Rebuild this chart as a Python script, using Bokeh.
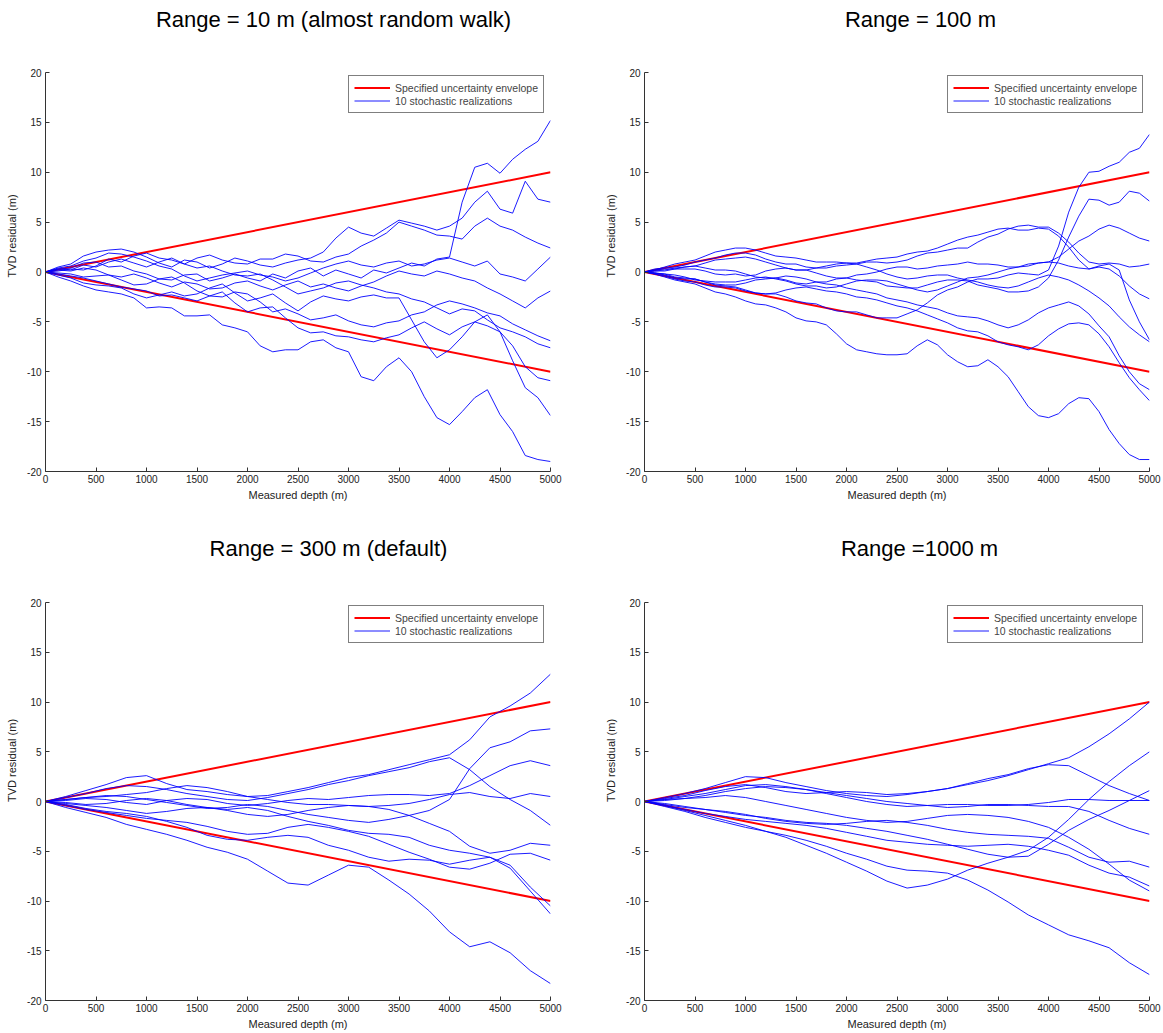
from bokeh.plotting import figure
from bokeh.layouts import column, row
from bokeh.models import Label, Legend, LegendItem, Range1d
from bokeh.embed import file_html
from bokeh.resources import INLINE

FONT = "Liberation Sans"

# ---------------- data ----------------
x_ticks = [0, 500, 1000, 1500, 2000, 2500, 3000, 3500, 4000, 4500, 5000]
y_ticks = [-20, -15, -10, -5, 0, 5, 10, 15, 20]

env_x = [0, 5000]
env_upper = [0, 10]
env_lower = [0, -10]

titles = ["Range = 10 m (almost random walk)", "Range = 100 m",
          "Range = 300 m (default)", "Range =1000 m"]
legend_labels = ["Specified uncertainty envelope", "10 stochastic realizations"]

# sample depths
x_rw = list(range(0, 5001, 125))     # Range = 10 m panel
x_md = list(range(0, 5001, 100))     # Range = 100 m panel
x_sm = list(range(0, 5001, 200))     # Range = 300 m and 1000 m panels

# Range = 10 m
r10_1 = [0, 0.3, 0.4, 0.9, 1.0, 0.5, 0.6, 0.1, -0.2, -0.7, -0.8, -0.3, -0.2, -0.9, -0.6, -0.2, -0.6, -0.9, -0.2, -0.6, 0.1, 0.4, -0.4, 0.2, -0.2, -0.6, 0.2, -0.1, 0.4, 0.9, 0.6, 1.3, 1.5, 7.0, 10.5, 10.9, 9.9, 11.3, 12.3, 13.1, 15.2]
r10_2 = [0, 0.5, 0.8, 1.6, 2.0, 2.2, 2.3, 2.0, 1.5, 0.9, 0.5, 1.2, 1.0, 0.4, 0.8, 1.4, 1.1, 0.7, 0.5, 0.9, 1.2, 1.4, 2.0, 3.4, 4.5, 3.9, 3.6, 4.4, 5.2, 4.9, 4.6, 4.2, 4.6, 5.4, 7.0, 8.1, 6.3, 5.9, 9.1, 7.3, 7.0]
r10_3 = [0, 0.1, 0.3, 0.2, 0.6, 1.3, 1.0, 1.6, 1.9, 1.4, 1.2, 0.8, 1.4, 1.7, 1.2, 0.9, 0.8, 1.3, 1.3, 1.8, 1.6, 1.1, 1.0, 1.5, 1.8, 2.6, 3.2, 3.9, 5.0, 4.6, 4.2, 3.7, 3.6, 3.3, 4.6, 5.4, 4.6, 4.2, 3.5, 2.9, 2.4]
r10_4 = [0, 0.4, 0.6, 1.1, 1.4, 1.9, 1.8, 1.5, 1.1, 0.6, 0.3, -0.4, -0.9, -0.6, -0.3, -0.1, 0.1, -0.3, -0.5, -0.9, -0.6, -0.1, 0.4, 0.8, 1.1, 0.7, 0.5, 0.9, 1.1, 0.6, 0.8, 1.2, 1.4, 1.0, 0.6, 1.1, -0.2, -0.5, -0.9, 0.3, 1.5]
r10_5 = [0, 0.2, 0.1, 0.4, 0.2, -0.3, -0.5, -0.2, -0.6, -1.1, -1.5, -1.0, -1.2, -1.7, -1.6, -1.1, -0.9, -1.4, -1.8, -1.3, -0.9, -1.5, -1.2, -1.6, -1.9, -1.4, -1.0, -0.4, 0.1, -0.2, -0.4, 0.1, -0.2, -0.6, -0.9, -1.6, -2.2, -2.9, -3.6, -2.6, -1.9]
r10_6 = [0, -0.1, -0.2, -0.5, -0.4, -0.3, -0.8, -1.3, -1.2, -0.7, -0.5, -1.1, -1.9, -2.4, -2.5, -2.0, -2.2, -3.0, -4.0, -3.7, -4.2, -4.8, -4.6, -4.3, -4.9, -5.3, -5.5, -5.1, -4.9, -4.3, -4.0, -3.3, -2.9, -3.2, -3.6, -4.1, -4.4, -5.2, -5.8, -6.4, -6.9]
r10_7 = [0, 0.3, 0.2, 0.7, 0.5, 1.0, 1.3, 0.9, 0.5, 1.0, 1.4, 0.8, 0.4, 0.6, 0.1, -0.3, -0.4, -0.2, -0.8, -1.5, -2.2, -1.9, -1.6, -1.1, -0.9, -1.3, -1.6, -2.0, -2.2, -2.7, -3.0, -3.6, -4.2, -3.7, -3.9, -4.8, -5.6, -6.0, -6.5, -7.2, -7.6]
r10_8 = [0, -0.2, -0.4, -0.6, -0.9, -1.2, -1.5, -1.7, -1.9, -2.4, -2.3, -2.6, -2.9, -2.4, -2.0, -3.1, -4.0, -3.6, -3.5, -4.6, -5.6, -6.1, -6.0, -6.4, -6.5, -6.8, -7.0, -6.6, -6.3, -5.6, -5.0, -5.7, -6.3, -5.5, -5.0, -5.4, -6.0, -7.4, -9.5, -10.6, -10.9]
r10_9 = [0, -0.3, -0.6, -1.1, -1.3, -1.4, -1.6, -2.2, -2.6, -2.3, -2.0, -2.4, -2.2, -1.6, -1.2, -2.1, -2.9, -2.6, -2.2, -3.1, -3.9, -3.0, -2.4, -2.7, -2.9, -2.5, -2.3, -2.6, -2.6, -4.8, -7.0, -8.6, -7.8, -6.5, -5.0, -4.3, -6.0, -8.9, -11.6, -12.6, -14.4]
r10_10 = [0, -0.5, -0.9, -1.4, -1.8, -2.0, -2.2, -2.6, -3.6, -3.5, -3.6, -4.4, -4.4, -4.3, -5.3, -5.6, -6.0, -7.4, -8.0, -7.8, -7.8, -7.0, -6.8, -7.6, -8.0, -10.5, -10.9, -9.5, -8.6, -10.0, -12.5, -14.6, -15.3, -14.0, -12.6, -11.8, -14.3, -16.0, -18.4, -18.8, -19.0]

# Range = 100 m
r100_1 = [0, -0.1, -0.3, -0.6, -0.7, -0.7, -1.0, -1.3, -1.4, -1.5, -1.8, -2.1, -2.2, -2.2, -2.5, -2.9, -3.1, -3.2, -3.6, -3.9, -4.0, -4.0, -4.3, -4.6, -4.6, -4.6, -4.2, -3.8, -3.1, -2.3, -1.8, -1.5, -1.0, -0.7, -0.7, -0.6, -0.3, -0.1, -0.2, -0.3, 0.2, 2.6, 6.0, 8.5, 10.0, 10.1, 10.6, 11.0, 12.0, 12.4, 13.8]
r100_2 = [0, 0.2, 0.3, 0.3, 0.5, 0.6, 0.4, 0.2, 0.2, 0.1, -0.2, -0.5, -0.6, -0.6, -0.8, -1.1, -1.2, -1.0, -1.0, -0.7, -0.6, -0.8, -0.9, -1.0, -1.4, -1.5, -1.6, -1.6, -1.3, -1.0, -0.8, -0.8, -0.9, -1.3, -1.5, -1.7, -2.0, -2.0, -1.9, -1.5, -0.6, 1.2, 3.5, 5.6, 7.3, 7.2, 6.7, 7.0, 8.1, 7.9, 7.1]
r100_3 = [0, 0.1, 0.1, 0.3, 0.3, 0.3, 0.1, -0.2, -0.3, -0.2, -0.4, -0.3, 0.1, 0.3, 0.4, 0.2, 0.2, -0.1, -0.4, -0.6, -0.6, -0.3, -0.2, 0.0, 0.3, 0.5, 0.5, 0.3, 0.4, 0.6, 0.7, 0.8, 1.0, 0.8, 0.8, 0.7, 0.5, 0.5, 0.6, 0.9, 1.0, 1.5, 2.3, 3.1, 3.6, 4.3, 4.7, 4.4, 3.9, 3.4, 3.1]
r100_4 = [0, 0.3, 0.4, 0.5, 0.7, 1.0, 1.2, 1.4, 1.7, 1.9, 1.9, 1.7, 1.3, 1.0, 0.8, 0.8, 0.5, 0.4, 0.4, 0.6, 0.7, 0.8, 1.0, 1.0, 0.9, 1.0, 1.2, 1.6, 1.9, 2.0, 2.2, 2.4, 2.4, 3.0, 3.5, 3.8, 4.3, 4.6, 4.7, 4.5, 4.5, 3.9, 3.0, 1.9, 1.0, 0.8, 0.9, 0.8, 0.5, 0.6, 0.8]
r100_5 = [0, 0.2, 0.5, 0.8, 1.0, 1.2, 1.6, 2.0, 2.2, 2.4, 2.4, 2.2, 1.9, 1.6, 1.5, 1.4, 1.2, 1.0, 1.0, 1.0, 0.9, 0.9, 1.1, 1.3, 1.4, 1.5, 1.8, 2.0, 2.1, 2.4, 2.8, 3.2, 3.5, 3.7, 4.0, 4.3, 4.4, 4.2, 4.2, 4.4, 4.3, 3.6, 2.5, 1.2, 0.3, 0.5, 0.3, -0.4, -1.4, -2.2, -2.7]
r100_6 = [0, -0.1, -0.2, -0.3, -0.5, -0.8, -0.9, -1.0, -1.0, -1.0, -0.8, -0.6, -0.5, -0.7, -0.9, -1.2, -1.4, -1.4, -1.6, -1.5, -1.2, -0.9, -0.8, -0.8, -0.9, -1.2, -1.5, -1.8, -2.0, -1.8, -1.4, -1.0, -0.6, -0.5, -0.3, 0.0, 0.3, 0.5, 0.8, 0.9, 1.0, 0.9, 0.6, 0.4, 0.3, 0.6, 0.8, 0.2, -2.8, -5.0, -6.8]
r100_7 = [0, 0.1, 0.2, 0.4, 0.5, 0.6, 0.9, 1.2, 1.3, 1.4, 1.5, 1.3, 1.0, 0.7, 0.4, 0.2, 0.2, 0.4, 0.6, 0.8, 0.9, 0.8, 0.5, 0.2, -0.2, -0.5, -0.7, -0.6, -0.4, -0.3, -0.3, -0.6, -0.8, -1.0, -1.3, -1.5, -1.6, -1.4, -1.0, -0.6, -0.3, -0.5, -0.8, -1.3, -1.9, -2.6, -3.4, -4.5, -5.5, -6.3, -7.0]
r100_8 = [0, -0.1, -0.2, -0.5, -0.6, -0.7, -1.0, -1.2, -1.3, -1.3, -1.1, -0.8, -0.7, -0.6, -0.4, -0.5, -0.7, -1.0, -1.2, -1.3, -1.6, -1.8, -2.0, -2.2, -2.6, -2.8, -3.0, -3.3, -3.5, -3.7, -4.1, -4.4, -4.5, -4.6, -4.9, -5.3, -5.6, -5.3, -4.8, -4.1, -3.6, -3.3, -3.0, -3.4, -4.2, -5.4, -6.5, -8.4, -10.0, -11.2, -11.8]
r100_9 = [0, -0.2, -0.4, -0.7, -0.9, -1.0, -1.3, -1.5, -1.5, -1.6, -1.9, -2.1, -2.2, -2.1, -1.8, -1.6, -1.5, -1.7, -1.9, -2.0, -2.2, -2.5, -2.6, -2.8, -3.1, -3.4, -3.6, -3.9, -4.3, -4.7, -5.1, -5.6, -5.9, -6.0, -6.4, -7.0, -7.3, -7.5, -7.8, -7.3, -6.4, -5.7, -5.2, -5.1, -5.3, -6.2, -7.5, -9.1, -10.6, -11.8, -12.9]
r100_10 = [0, -0.2, -0.5, -0.8, -1.0, -1.2, -1.6, -2.0, -2.2, -2.5, -2.9, -3.2, -3.3, -3.6, -4.0, -4.6, -4.9, -5.0, -5.3, -6.2, -7.2, -7.8, -8.0, -8.2, -8.3, -8.3, -8.2, -7.4, -6.8, -7.3, -8.3, -9.0, -9.5, -9.4, -8.8, -9.5, -10.5, -12.0, -13.5, -14.4, -14.6, -14.2, -13.2, -12.6, -12.7, -14.0, -15.8, -17.2, -18.3, -18.8, -18.8]

# Range = 300 m
r300_1 = [0, 0.5, 1.1, 1.7, 2.4, 2.6, 1.8, 1.2, 1.0, 0.7, 0.5, 0.6, 1.0, 1.4, 1.9, 2.4, 2.7, 3.2, 3.7, 4.2, 4.7, 6.2, 8.5, 9.6, 10.9, 12.8]
r300_2 = [0, 0.2, 0.4, 0.6, 0.5, 0.2, -0.1, -0.4, -0.7, -0.6, -0.3, -0.5, -0.9, -1.3, -1.6, -1.9, -2.1, -1.8, -1.4, -0.9, 0.2, 3.3, 5.4, 6.0, 7.1, 7.3]
r300_3 = [0, 0.1, 0.3, 0.2, -0.1, -0.3, 0.1, 0.3, 0.2, -0.2, -0.4, -0.2, 0.1, 0.3, 0.2, 0.4, 0.6, 0.7, 0.7, 0.6, 0.8, 1.6, 2.6, 3.6, 4.1, 3.6]
r300_4 = [0, 0.2, 0.4, 0.5, 0.7, 0.9, 1.3, 1.6, 1.4, 1.0, 0.5, 0.2, -0.1, -0.3, -0.3, -0.4, -0.5, -0.4, -0.2, 0.2, 0.7, 0.9, 0.5, 0.3, 0.8, 0.5]
r300_5 = [0, 0.4, 0.8, 1.3, 1.6, 1.5, 1.2, 0.8, 0.5, 0.2, 0.1, 0.4, 0.8, 1.2, 1.7, 2.1, 2.6, 3.0, 3.4, 4.0, 4.4, 3.2, 1.5, 0.2, -0.9, -2.4]
r300_6 = [0, -0.2, -0.4, -0.6, -0.9, -1.2, -1.0, -0.7, -0.6, -0.9, -1.3, -1.5, -1.3, -0.9, -0.6, -0.4, -0.5, -0.8, -1.4, -2.2, -3.0, -4.5, -5.2, -4.9, -4.2, -4.4]
r300_7 = [0, -0.4, -0.8, -1.1, -1.4, -1.7, -1.9, -2.1, -2.5, -3.0, -3.3, -3.2, -2.6, -2.3, -2.6, -3.0, -3.5, -4.3, -5.1, -5.8, -6.6, -6.8, -6.2, -5.3, -5.2, -5.9]
r300_8 = [0, -0.1, -0.3, -0.2, 0.1, 0.3, 0.1, -0.3, -0.6, -0.8, -0.6, -0.9, -1.5, -2.0, -2.4, -2.9, -3.2, -3.3, -3.6, -4.4, -4.9, -5.2, -5.6, -6.4, -8.6, -10.5]
r300_9 = [0, -0.3, -0.7, -1.0, -1.2, -1.5, -2.0, -2.6, -3.4, -3.8, -3.9, -3.6, -3.4, -3.6, -4.4, -4.9, -5.6, -6.0, -5.8, -5.9, -6.3, -5.9, -5.6, -6.7, -9.0, -11.3]
r300_10 = [0, -0.6, -1.1, -1.6, -2.3, -2.8, -3.3, -3.9, -4.6, -5.1, -5.8, -7.0, -8.2, -8.4, -7.4, -6.4, -6.6, -7.9, -9.3, -11.0, -13.1, -14.6, -14.1, -15.2, -17.0, -18.3]

# Range = 1000 m
r1000_1 = [0, 0.4, 0.8, 1.3, 1.9, 2.5, 2.4, 1.9, 1.5, 1.1, 0.8, 0.6, 0.5, 0.7, 1.0, 1.3, 1.7, 2.1, 2.6, 3.2, 3.8, 4.4, 5.5, 6.8, 8.3, 10.0]
r1000_2 = [0, -0.4, -0.9, -1.4, -1.9, -2.4, -3.0, -3.6, -4.4, -5.2, -6.1, -7.0, -8.0, -8.7, -8.4, -7.8, -6.9, -6.2, -5.6, -4.9, -3.6, -1.8, 0.2, 2.0, 3.6, 5.0]
r1000_3 = [0, -0.2, -0.5, -0.8, -1.1, -1.4, -1.6, -1.9, -2.1, -2.2, -2.4, -2.7, -3.0, -3.4, -3.8, -4.3, -4.8, -5.3, -5.6, -5.5, -4.3, -2.9, -1.8, -0.9, 0.1, 1.1]
r1000_4 = [0, 0.3, 0.6, 1.1, 1.5, 1.7, 1.4, 1.0, 0.8, 0.9, 1.0, 0.9, 0.7, 0.8, 1.0, 1.3, 1.8, 2.3, 2.7, 3.3, 3.7, 3.6, 2.6, 1.6, 0.8, 0.1]
r1000_5 = [0, 0.2, 0.5, 0.8, 1.2, 1.6, 1.7, 1.5, 1.2, 0.8, 0.4, 0.0, -0.3, -0.5, -0.4, -0.3, -0.3, -0.4, -0.4, -0.3, -0.1, 0.2, 0.2, 0.1, 0.1, 0.1]
r1000_6 = [0, 0.1, 0.3, 0.6, 1.0, 1.3, 1.5, 1.4, 1.2, 0.9, 0.6, 0.3, 0.0, -0.2, -0.4, -0.6, -0.5, -0.3, -0.3, -0.4, -0.5, -0.5, -1.0, -1.9, -2.7, -3.3]
r1000_7 = [0, -0.3, -0.6, -0.8, -1.0, -1.3, -1.7, -2.0, -2.2, -2.3, -2.2, -2.0, -1.9, -2.1, -2.4, -2.8, -3.1, -3.3, -3.4, -3.5, -3.7, -4.6, -5.6, -6.1, -6.0, -6.6]
r1000_8 = [0, -0.4, -0.8, -1.2, -1.5, -1.8, -2.0, -2.2, -2.4, -2.7, -3.1, -3.5, -3.9, -4.1, -4.3, -4.4, -4.5, -4.4, -4.3, -4.5, -4.9, -5.4, -6.4, -7.2, -7.6, -8.5]
r1000_9 = [0, 0.2, 0.3, 0.4, 0.6, 0.4, 0.0, -0.4, -0.8, -1.2, -1.6, -1.9, -2.1, -2.0, -1.7, -1.4, -1.3, -1.4, -1.6, -2.0, -2.6, -3.6, -4.8, -6.3, -7.9, -9.0]
r1000_10 = [0, -0.5, -1.0, -1.6, -2.1, -2.6, -3.0, -3.4, -3.9, -4.5, -5.2, -5.8, -6.5, -6.9, -7.0, -7.2, -7.9, -8.9, -10.1, -11.4, -12.4, -13.4, -14.0, -14.7, -16.2, -17.4]

lines_10 = [r10_1, r10_2, r10_3, r10_4, r10_5, r10_6, r10_7, r10_8, r10_9, r10_10]
lines_100 = [r100_1, r100_2, r100_3, r100_4, r100_5, r100_6, r100_7, r100_8, r100_9, r100_10]
lines_300 = [r300_1, r300_2, r300_3, r300_4, r300_5, r300_6, r300_7, r300_8, r300_9, r300_10]
lines_1000 = [r1000_1, r1000_2, r1000_3, r1000_4, r1000_5, r1000_6, r1000_7, r1000_8, r1000_9, r1000_10]


def make_panel(title, title_cx, title_cy, x, lines, width, bl, br,
               top_px, frame_px, bb):
    """top_px: pixels from figure top to the y=20 level;
    frame_px: pixels between y=20 and y=-20."""
    height = top_px + frame_px + bb
    y_top = 20 + 40.0 * top_px / frame_px
    p = figure(width=width, height=height,
               x_range=Range1d(0, 5000), y_range=Range1d(-20, y_top),
               output_backend="svg", toolbar_location=None,
               min_border_left=bl, min_border_right=br,
               min_border_top=0, min_border_bottom=bb)
    p.grid.visible = False
    p.outline_line_color = None
    p.background_fill_color = "white"
    p.border_fill_color = "white"

    r_up = p.line(env_x, env_upper, line_color="#ff0000", line_width=2)
    r_lo = p.line(env_x, env_lower, line_color="#ff0000", line_width=2)
    r_b = p.multi_line([x] * len(lines), lines, line_color="#0000ff",
                       line_width=0.9)

    p.xaxis.ticker = x_ticks
    p.yaxis.ticker = y_ticks
    p.yaxis.bounds = (-20, 20)
    p.yaxis.major_label_overrides = {v: str(v) for v in y_ticks}
    p.xaxis.major_label_overrides = {v: str(v) for v in x_ticks}
    p.xaxis.axis_label = "Measured depth (m)"
    p.yaxis.axis_label = "TVD residual (m)"
    for ax in (p.xaxis[0], p.yaxis[0]):
        ax.major_tick_in = 4
        ax.major_tick_out = 0
        ax.minor_tick_line_color = None
        ax.axis_line_color = "#333333"
        ax.major_tick_line_color = "#333333"
        ax.major_label_text_font = FONT
        ax.major_label_text_font_size = "10px"
        ax.major_label_text_color = "#222222"
        ax.axis_label_text_font = FONT
        ax.axis_label_text_font_size = "11px"
        ax.axis_label_text_font_style = "normal"
        ax.axis_label_text_color = "#222222"
    p.xaxis.major_label_standoff = 3
    p.xaxis.axis_label_standoff = 3
    p.yaxis.major_label_standoff = 4
    p.yaxis.axis_label_standoff = 6

    legend = Legend(items=[LegendItem(label=legend_labels[0], renderers=[r_up]),
                           LegendItem(label=legend_labels[1], renderers=[r_b])],
                    location=(303, frame_px - 41), padding=5, spacing=0,
                    glyph_width=36, glyph_height=13, label_height=13,
                    label_standoff=5, label_text_font=FONT,
                    label_text_font_size="10.5px",
                    border_line_color="black", border_line_width=1,
                    background_fill_color="white", background_fill_alpha=1)
    p.add_layout(legend)

    p.add_layout(Label(x=title_cx, y=top_px + frame_px - title_cy,
                       x_units="screen", y_units="screen", text=title,
                       text_align="center", text_baseline="middle",
                       text_font=FONT, text_font_size="22px",
                       text_color="black"))
    return p


p1 = make_panel(titles[0], 288, 19, x_rw, lines_10, 598, 45, 48, 72, 399, 49)
p2 = make_panel(titles[1], 276, 19, x_md, lines_100, 565, 46, 14, 72, 399, 49)
p3 = make_panel(titles[2], 283, 28, x_sm, lines_300, 598, 45, 48, 82, 398, 33)
p4 = make_panel(titles[3], 275, 28, x_sm, lines_1000, 565, 46, 14, 82, 398, 33)

layout = column(row(p1, p2), row(p3, p4))
open("out.html", "w").write(file_html(layout, INLINE))
